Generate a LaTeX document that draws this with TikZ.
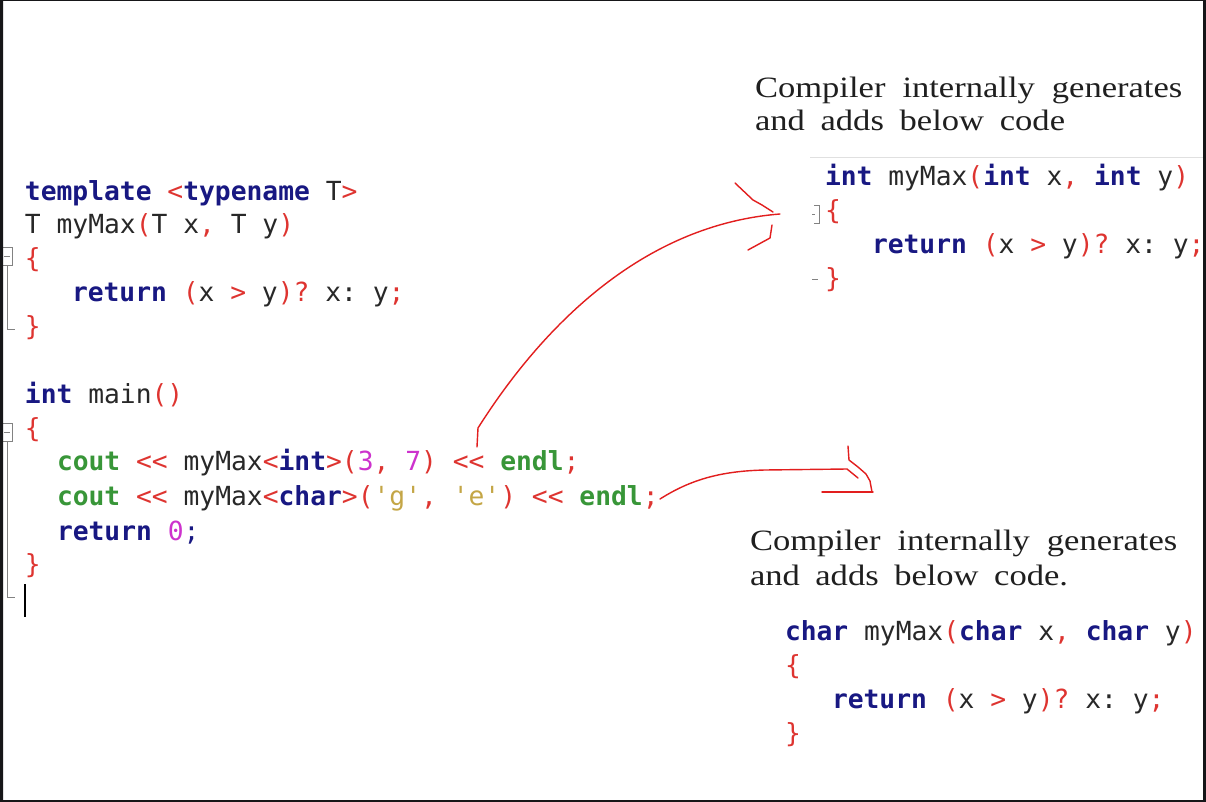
\documentclass[tikz,border=0pt]{standalone}
\usepackage{fontspec}
\setmainfont{Liberation Serif}[FakeStretch=1.17]
\newfontfamily\codefont{DejaVu Sans Mono}
\usepackage{xcolor}
\usetikzlibrary{positioning}

\definecolor{kwblue}{RGB}{24,24,130}
\definecolor{punred}{RGB}{222,52,48}
\definecolor{idgray}{RGB}{40,40,40}
\definecolor{litmag}{RGB}{205,50,205}
\definecolor{chrtan}{RGB}{196,166,70}
\definecolor{coutgreen}{RGB}{56,150,56}
\definecolor{penred}{RGB}{226,30,30}
\definecolor{foldgray}{RGB}{130,130,130}
\definecolor{framedark}{RGB}{22,22,24}

\newcommand\kwd[1]{{\bfseries\color{kwblue}#1}}
\newcommand\pun[1]{{\color{punred}#1}}
\newcommand\lit[1]{{\color{litmag}#1}}
\newcommand\chr[1]{{\color{chrtan}#1}}
\newcommand\grb[1]{{\bfseries\color{coutgreen}#1}}
\newcommand\apos{\char"27\relax}
\newcommand\retline{\kwd{return} \pun{(}x \pun{>} y\pun{)}\pun{?} x: y\pun{;}}

\tikzset{
  code/.style={anchor=base west, inner sep=0pt, outer sep=0pt, text=idgray,
    font=\codefont\fontsize{18.7}{24}\selectfont\frenchspacing},
  note/.style={anchor=base west, inner sep=0pt, outer sep=0pt, text=black!88,
    font=\fontsize{21}{25}\selectfont},
  pen/.style={draw=penred, line width=1pt, line join=round, line cap=round},
  fold/.style={draw=foldgray, line width=0.7pt}
}

\begin{document}
\begin{tikzpicture}[x=0.025cm, y=-0.025cm]
  \useasboundingbox (0,0) rectangle (1206,802);
  \fill[white] (0,0) rectangle (1206,802);

  % template definition
  \node[code] (tl1) at (25,200) {\kwd{template} \pun{<}\kwd{typename} T\pun{>}};
  \node[code] (tl2) at (25,233) {T myMax\pun{(}T x\pun{,} T y\pun{)}};
  \node[code] (tl3) at (25,267) {\pun{\{}};
  \node[code] (tl4) at (72,301) {\retline};
  \node[code] (tl5) at (25,335) {\pun{\}}};

  % main
  \node[code] (mn1) at (25,403) {\kwd{int} main\pun{()}};
  \node[code] (mn2) at (25,437) {\pun{\{}};
  \node[code] (mn3) at (57,470) {\grb{cout} \pun{<<} myMax\pun{<}\kwd{int}\pun{>(}\lit{3}\pun{,} \lit{7}\pun{)} \pun{<<} \grb{endl}\pun{;}};
  \node[code] (mn4) at (57,505) {\grb{cout} \pun{<<} myMax\pun{<}\kwd{char}\pun{>(}\chr{\apos g\apos}\pun{,} \chr{\apos e\apos}\pun{)} \pun{<<} \grb{endl}\pun{;}};
  \node[code] (mn5) at (57,540) {\kwd{return} \lit{0}{\color{kwblue};}};
  \node[code] (mn6) at (25,573) {\pun{\}}};

  % editor fold marks and cursor
  \draw[fold] (1,247) rectangle (12,265);
  \draw[fold] (4,256) -- (10,256);
  \draw[fold] (7,265) -- (7,329) -- (15,329);
  \draw[fold] (1,423) rectangle (12,441);
  \draw[fold] (4,432) -- (10,432);
  \draw[fold] (7,441) -- (7,597) -- (15,597);
  \draw[black, line width=1pt] (25,584) -- (25,617);

  % generated int version
  \node[note] (nt1) at (755,97) {\makebox[10.68cm][s]{Compiler internally generates}};
  \node[note] (nt2) at (755,130) {\makebox[7.75cm][s]{and adds below code}};
  \draw[black!12] (810,157) -- (1203,157);
  \node[code] (rt1) at (825,185) {\kwd{int} myMax\pun{(}\kwd{int} x\pun{,} \kwd{int} y\pun{)}};
  \node[code] (rt2) at (825,219) {\pun{\{}};
  \node[code] (rt3) at (872,253) {\retline};
  \node[code] (rt4) at (825,287) {\pun{\}}};
  \draw[fold] (814,205) -- (819,205) -- (819,223) -- (814,223);
  \draw[fold] (812,214) -- (815,214);
  \draw[fold] (812,279) -- (818,279);

  % generated char version
  \node[note] (nb1) at (750,550) {\makebox[10.68cm][s]{Compiler internally generates}};
  \node[note] (nb2) at (750,585) {\makebox[7.95cm][s]{and adds below code.}};
  \node[code] (rb1) at (785,640) {\kwd{char} myMax\pun{(}\kwd{char} x\pun{,} \kwd{char} y\pun{)}};
  \node[code] (rb2) at (785,674) {\pun{\{}};
  \node[code] (rb3) at (832,708) {\retline};
  \node[code] (rb4) at (785,742) {\pun{\}}};

  % hand drawn arrows
  \coordinate (a1s) at (477,447);
  \coordinate (a1e) at (780,214);
  \draw[pen] (a1s) -- ++(1,-19) .. controls (540,330) and (640,225) .. (a1e);
  \draw[pen] (735,183) -- (753,200) -- (762,205) -- (773,212);
  \draw[pen] (772,225) -- (770,238) -- (748,250);

  \coordinate (a2s) at (660,499);
  \coordinate (a2e) at (858,478);
  \draw[pen] (a2s) .. controls (690,480) and (720,471) .. (765,470) -- (847,469) -- (a2e);
  \draw[pen] (848,446) -- (849,460) -- (858,467) -- (866,474) -- (870,481) -- (872,492);
  \draw[pen] (822,492) -- (873,492);

  % screenshot frame
  \fill[framedark, even odd rule] (0,0) rectangle (1206,802) (3,1) rectangle (1203,800);
\end{tikzpicture}
\end{document}
